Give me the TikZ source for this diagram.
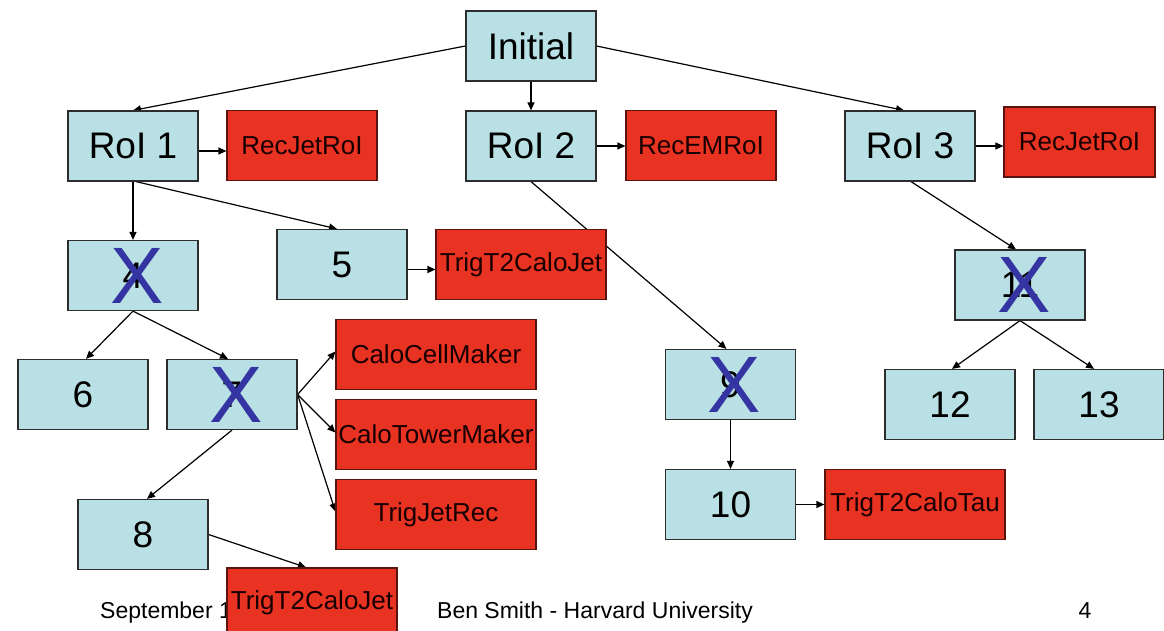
\documentclass[tikz,border=0pt]{standalone}
\usepackage{fontspec}
\setmainfont{Liberation Sans}
\usetikzlibrary{arrows.meta}
\pgfdeclarelayer{paper}
\pgfdeclarelayer{links}
\pgfsetlayers{paper,links,main}
\definecolor{boxblue}{RGB}{185,224,228}
\definecolor{algred}{RGB}{232,50,34}
\definecolor{algline}{RGB}{90,20,15}
\definecolor{crossblue}{RGB}{52,52,162}
\definecolor{edgegray}{RGB}{45,45,45}
\begin{document}
\begin{tikzpicture}[x=1pt,y=-1pt,
  state/.style={draw=edgegray, line width=1.2pt, fill=boxblue,
    minimum width=130pt, minimum height=70pt, inner sep=0pt,
    font=\fontsize{37}{40}\selectfont},
  alg/.style={draw=algline, line width=1.2pt, fill=algred,
    minimum height=70pt, inner sep=0pt, text=black!90!red,
    font=\fontsize{26}{30}\selectfont},
  cross/.style={text=crossblue, inner sep=0pt, font=\fontsize{80}{80}\selectfont},
  link/.style={draw=black, line width=1.2pt, -{Triangle[length=8pt,width=7pt]}},
  foot/.style={inner sep=0pt, font=\fontsize{23}{26}\selectfont}]

\clip (0,0) rectangle (1164,631);
\begin{pgfonlayer}{paper}
  \fill[white] (0,0) rectangle (1164,631);
\end{pgfonlayer}

% footer (partly hidden by the last algorithm box)
\node[foot, anchor=base west] (date) at (100,618) {September 1};
\node[foot, anchor=base west] (author) at (437,618) {Ben Smith - Harvard University};
\node[foot, anchor=base] (page) at (1085,618) {4};

% states
\node[state] (init) at (531,46)   {Initial};
\node[state] (roi1) at (133,146)  {RoI 1};
\node[state] (roi2) at (531,146)  {RoI 2};
\node[state] (roi3) at (910,146)  {RoI 3};
\node[state] (n4)   at (133,275.5) {4};
\node[state] (n5)   at (342,264.5) {5};
\node[state] (n6)   at (83,394.5)  {6};
\node[state] (n7)   at (232,394.5) {7};
\node[state] (n8)   at (143,534.5) {8};
\node[state] (n9)   at (730.5,384.5) {9};
\node[state] (n10)  at (730.5,504.5) {10};
\node[state] (n11)  at (1020,285)  {11};
\node[state] (n12)  at (950,404.5) {12};
\node[state] (n13)  at (1099,404.5) {13};

% algorithms
\node[alg, minimum width=150pt] (rec1)  at (302,145.5)  {RecJetRoI};
\node[alg, minimum width=150pt] (recem) at (701,145.5)  {RecEMRoI};
\node[alg, minimum width=151pt] (rec3)  at (1079.5,142) {RecJetRoI};
\node[alg, minimum width=170pt] (jet5)  at (521,264.5)  {TrigT2CaloJet};
\node[alg, minimum width=200pt] (cell)  at (436,354.5)  {CaloCellMaker};
\node[alg, minimum width=200pt] (tower) at (436,434.5)  {CaloTowerMaker};
\node[alg, minimum width=200pt] (jetrec) at (436,514.5) {TrigJetRec};
\node[alg, minimum width=170pt] (jet8)  at (312,603)    {TrigT2CaloJet};
\node[alg, minimum width=180pt] (tau)   at (915,504.5)  {TrigT2CaloTau};

% rejected states
\node[cross] (x4)  at (137,275.5)  {X};
\node[cross] (x7)  at (236.5,394.5) {X};
\node[cross] (x9)  at (734,384.5)  {X};
\node[cross] (x11) at (1024,285)   {X};

% connectors
\begin{pgfonlayer}{links}
  \draw[link] (init.west) -- (roi1.north);
  \draw[link] (init.south) -- (roi2.north);
  \draw[link] (init.east) -- ([xshift=-6pt]roi3.north);
  \draw[link] ([yshift=-5pt]roi1.east) -- ([yshift=-5pt]roi1.east -| rec1.west);
  \draw[link] (roi2.east) -- (roi2.east -| recem.west);
  \draw[link] (roi3.east) -- (roi3.east -| rec3.west);
  \draw[link] (roi1.south) -- (n4.north);
  \draw[link] ([xshift=3pt]roi1.south) -- ([xshift=-5pt]n5.north);
  \draw[link] ([yshift=-5pt]n5.east) -- ([yshift=-5pt]n5.east -| jet5.west);
  \draw[link] (roi2.south) -- ([xshift=-4pt]n9.north);
  \draw[link] (n4.south) -- ([xshift=3pt]n6.north);
  \draw[link] (n4.south) -- ([xshift=-4pt]n7.north);
  \draw[link] (n7.east) -- ([yshift=3pt]cell.west);
  \draw[link] (n7.east) -- ([yshift=2pt]tower.west);
  \draw[link] (n7.east) -- ([yshift=3pt]jetrec.west);
  \draw[link] (n7.south) -- ([xshift=4pt]n8.north);
  \draw[link] (n8.east) -- ([xshift=-6pt]jet8.north);
  \draw[link] (n9.south) -- (n10.north);
  \draw[link] (n10.east) -- (tau.west);
  \draw[link] ([xshift=1pt]roi3.south) -- ([xshift=-4pt]n11.north);
  \draw[link] (n11.south) -- ([xshift=2pt]n12.north);
  \draw[link] (n11.south) -- ([xshift=-5pt]n13.north);
\end{pgfonlayer}
\end{tikzpicture}
\end{document}
